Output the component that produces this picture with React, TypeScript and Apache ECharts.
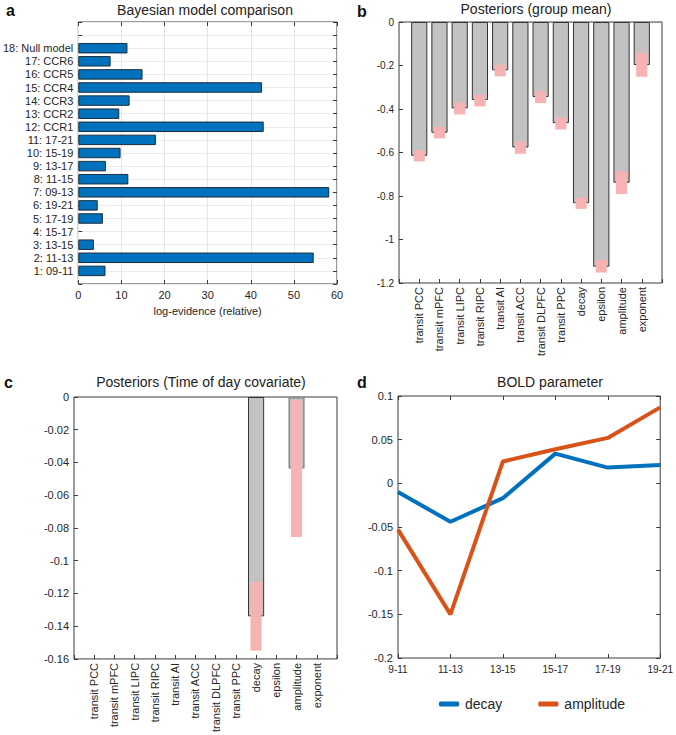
import React, { useEffect, useRef } from "react";
import * as echarts from "echarts";

const modelLabels = ["1: 09-11","2: 11-13","3: 13-15","4: 15-17","5: 17-19","6: 19-21","7: 09-13","8: 11-15","9: 13-17","10: 15-19","11: 17-21","12: CCR1","13: CCR2","14: CCR3","15: CCR4","16: CCR5","17: CCR6","18: Null model"];
const logEvidence = [6.3, 54.6, 3.6, 0, 5.7, 4.5, 58.2, 11.6, 6.4, 9.8, 18.0, 43.0, 9.5, 11.9, 42.6, 14.9, 7.5, 11.4];
const evidenceTicks = [0, 10, 20, 30, 40, 50, 60];

const paramLabels = ["transit PCC","transit mPFC","transit LIPC","transit RIPC","transit AI","transit ACC","transit DLPFC","transit PPC","decay","epsilon","amplitude","exponent"];
const groupMean = [-0.615,-0.509,-0.397,-0.359,-0.222,-0.577,-0.345,-0.465,-0.833,-1.125,-0.739,-0.198];
const groupUpper = [-0.589,-0.482,-0.371,-0.333,-0.196,-0.549,-0.317,-0.437,-0.806,-1.094,-0.686,-0.141];
const groupLower = [-0.641,-0.535,-0.425,-0.388,-0.25,-0.606,-0.373,-0.494,-0.859,-1.152,-0.791,-0.252];

const todMean = [0,0,0,0,0,0,0,0,-0.134,0,-0.0436,0];
const todUpper = [null,null,null,null,null,null,null,null,-0.113,null,-0.002,null];
const todLower = [null,null,null,null,null,null,null,null,-0.155,null,-0.0855,null];

const timeBins = ["9-11","11-13","13-15","15-17","17-19","19-21"];
const decaySeries = [-0.010,-0.044,-0.017,0.034,0.018,0.021];
const amplitudeSeries = [-0.053,-0.150,0.025,0.039,0.052,0.087];

const FONT = "Liberation Sans, Arial, Helvetica, sans-serif";
const TXT = "#262626";
const BOX = "#3a3a3a";

export default function App() {
  const ref = useRef<HTMLDivElement>(null);
  useEffect(() => {
    if (!ref.current) return;
    const chart = echarts.init(ref.current, null, { renderer: "svg" });

    const nz = (v: number) => (v === 0 ? null : v);
    // padded category lists (MATLAB-style limits: empty slots at the ends)
    const aCats = ["", ...modelLabels, "", ""];
    const aVals: (number | null)[] = [null, ...logEvidence.map(nz), null, null];
    const pCats = ["", ...paramLabels, ""];
    const bVals: (number | null)[] = [null, ...groupMean, null];
    const cVals: (number | null)[] = [null, ...todMean.map(nz), null];
    const bErr = paramLabels.map((_, i) => [i + 1, groupUpper[i], groupLower[i]]);
    const cErr = paramLabels
      .map((_, i) => [i + 1, todUpper[i], todLower[i]])
      .filter((d) => d[1] !== null);

    const errRender = (params: any, api: any) => {
      const x = api.value(0);
      const p1 = api.coord([x, api.value(1)]);
      const p2 = api.coord([x, api.value(2)]);
      const w = api.size([1, 0])[0] * 0.55;
      return {
        type: "rect",
        shape: { x: p1[0] - w / 2, y: Math.min(p1[1], p2[1]), width: w, height: Math.abs(p2[1] - p1[1]) },
        style: { fill: "#F7B3B3" },
      };
    };

    const lbl = (size: number, extra: any = {}) => ({
      color: TXT, fontFamily: FONT, fontSize: size, ...extra,
    });
    const tickIn = { show: true, inside: true, length: 4, lineStyle: { color: BOX } };
    const noLine = { show: false, onZero: false };

    const gridBox = { show: true, borderColor: BOX, borderWidth: 1, backgroundColor: "transparent" };

    const option: any = {
      animation: false,
      textStyle: { fontFamily: FONT },
      grid: [
        { left: 76, top: 22, width: 261, height: 262, ...gridBox },
        { left: 399, top: 22, width: 263, height: 261, ...gridBox },
        { left: 74, top: 397, width: 263, height: 262, ...gridBox },
        { left: 398, top: 396, width: 264, height: 262, ...gridBox },
      ],
      xAxis: [
        {
          gridIndex: 0, type: "value", min: evidenceTicks[0], max: evidenceTicks[evidenceTicks.length - 1], interval: 10,
          axisLine: noLine, axisTick: tickIn,
          axisLabel: lbl(11, { margin: 5 }),
          splitLine: { show: true, lineStyle: { color: "#e6e6e6" } },
          name: "log-evidence (relative)", nameLocation: "middle", nameGap: 21,
          nameTextStyle: lbl(11),
        },
        {
          gridIndex: 0, type: "value", position: "top", min: 0, max: 60, interval: 10,
          axisLine: noLine, axisTick: tickIn, axisLabel: { show: false }, splitLine: { show: false },
        },
        {
          gridIndex: 1, type: "category", data: pCats, boundaryGap: false,
          axisLine: noLine, axisTick: { ...tickIn, interval: 0 },
          axisLabel: lbl(11, { rotate: 90, interval: 0, margin: 4 }),
        },
        {
          gridIndex: 2, type: "category", data: pCats, boundaryGap: false,
          axisLine: noLine, axisTick: { ...tickIn, interval: 0 },
          axisLabel: lbl(11, { rotate: 90, interval: 0, margin: 4 }),
        },
        {
          gridIndex: 3, type: "category", data: timeBins, boundaryGap: false,
          axisLine: noLine, axisTick: { ...tickIn, interval: 0 },
          axisLabel: lbl(10, { interval: 0, margin: 6 }),
        },
        {
          gridIndex: 3, type: "category", data: timeBins, boundaryGap: false, position: "top",
          axisLine: noLine, axisTick: { ...tickIn, interval: 0 }, axisLabel: { show: false },
        },
      ],
      yAxis: [
        {
          gridIndex: 0, type: "category", data: aCats, boundaryGap: false,
          axisLine: noLine, axisTick: { ...tickIn, interval: 0 },
          axisLabel: lbl(11, { interval: 0, margin: 5 }),
          splitLine: { show: true, interval: 0, lineStyle: { color: "#ececec" } },
        },
        {
          gridIndex: 0, type: "category", data: aCats, boundaryGap: false, position: "right",
          axisLine: noLine, axisTick: { ...tickIn, interval: 0 }, axisLabel: { show: false },
        },
        {
          gridIndex: 1, type: "value", min: -1.2, max: 0, interval: 0.2,
          axisLine: noLine, axisTick: tickIn, splitLine: { show: false },
          axisLabel: lbl(10, { margin: 5 }),
        },
        {
          gridIndex: 2, type: "value", min: -0.16, max: 0, interval: 0.02,
          axisLine: noLine, axisTick: tickIn, splitLine: { show: false },
          axisLabel: lbl(11, { margin: 5 }),
        },
        {
          gridIndex: 3, type: "value", min: -0.2, max: 0.1, interval: 0.05,
          axisLine: noLine, axisTick: tickIn, splitLine: { show: false },
          axisLabel: lbl(11, { margin: 5 }),
        },
        {
          gridIndex: 3, type: "value", min: -0.2, max: 0.1, interval: 0.05, position: "right",
          axisLine: noLine, axisTick: tickIn, splitLine: { show: false }, axisLabel: { show: false },
        },
      ],
      legend: {
        left: 434, top: 692, itemWidth: 20, itemHeight: 5, itemGap: 36,
        data: ["decay", "amplitude"],
        textStyle: lbl(14, { padding: [0, 0, 0, 1] }),
        icon: "roundRect",
      },
      series: [
        {
          type: "bar", xAxisIndex: 0, yAxisIndex: 0, data: aVals, barWidth: "80%",
          itemStyle: { color: "#0072BD", borderColor: "#1f2d3a", borderWidth: 1 },
        },
        {
          type: "bar", xAxisIndex: 2, yAxisIndex: 2, data: bVals, barWidth: "80%",
          itemStyle: { color: "#C2C2C2", borderColor: "#333333", borderWidth: 1 },
        },
        {
          type: "custom", xAxisIndex: 2, yAxisIndex: 2, data: bErr, renderItem: errRender,
          encode: { x: 0, y: [1, 2] }, z: 5,
        },
        {
          type: "bar", xAxisIndex: 3, yAxisIndex: 3, barWidth: "80%",
          data: cVals.map((v, i) => (i === 11 ? { value: v, itemStyle: { borderColor: "#8a8a8a", borderWidth: 1.5 } } : v)),
          itemStyle: { color: "#C2C2C2", borderColor: "#333333", borderWidth: 1 },
        },
        {
          type: "custom", xAxisIndex: 3, yAxisIndex: 3, data: cErr, renderItem: errRender,
          encode: { x: 0, y: [1, 2] }, z: 5,
        },
        {
          name: "decay", type: "line", xAxisIndex: 4, yAxisIndex: 4, data: decaySeries,
          symbol: "none", lineStyle: { width: 4, color: "#0072BD" }, itemStyle: { color: "#0072BD" },
        },
        {
          name: "amplitude", type: "line", xAxisIndex: 4, yAxisIndex: 4, data: amplitudeSeries,
          symbol: "none", lineStyle: { width: 4, color: "#D95319" }, itemStyle: { color: "#D95319" },
        },
      ],
      graphic: [
        { type: "text", x: 6, y: 10, style: { text: "a", font: `bold 16px ${FONT}`, fill: "#111", verticalAlign: "middle" } },
        { type: "text", x: 205, y: 10, style: { text: "Bayesian model comparison", font: `14px ${FONT}`, fill: "#222", align: "center", verticalAlign: "middle" } },
        { type: "text", x: 357, y: 11, style: { text: "b", font: `bold 16px ${FONT}`, fill: "#111", verticalAlign: "middle" } },
        { type: "text", x: 536, y: 9, style: { text: "Posteriors (group mean)", font: `14px ${FONT}`, fill: "#222", align: "center", verticalAlign: "middle" } },
        { type: "text", x: 4, y: 382, style: { text: "c", font: `bold 16px ${FONT}`, fill: "#111", verticalAlign: "middle" } },
        { type: "text", x: 201, y: 382, style: { text: "Posteriors (Time of day covariate)", font: `14px ${FONT}`, fill: "#222", align: "center", verticalAlign: "middle" } },
        { type: "text", x: 357, y: 382, style: { text: "d", font: `bold 16px ${FONT}`, fill: "#111", verticalAlign: "middle" } },
        { type: "text", x: 550, y: 382, style: { text: "BOLD parameter", font: `14px ${FONT}`, fill: "#222", align: "center", verticalAlign: "middle" } },
      ],
    };

    chart.setOption(option);
    return () => chart.dispose();
  }, []);

  return (
    <div
      ref={ref}
      style={{ position: "absolute", left: 0, top: 0, width: 676, height: 735, background: "#fff" }}
    />
  );
}
